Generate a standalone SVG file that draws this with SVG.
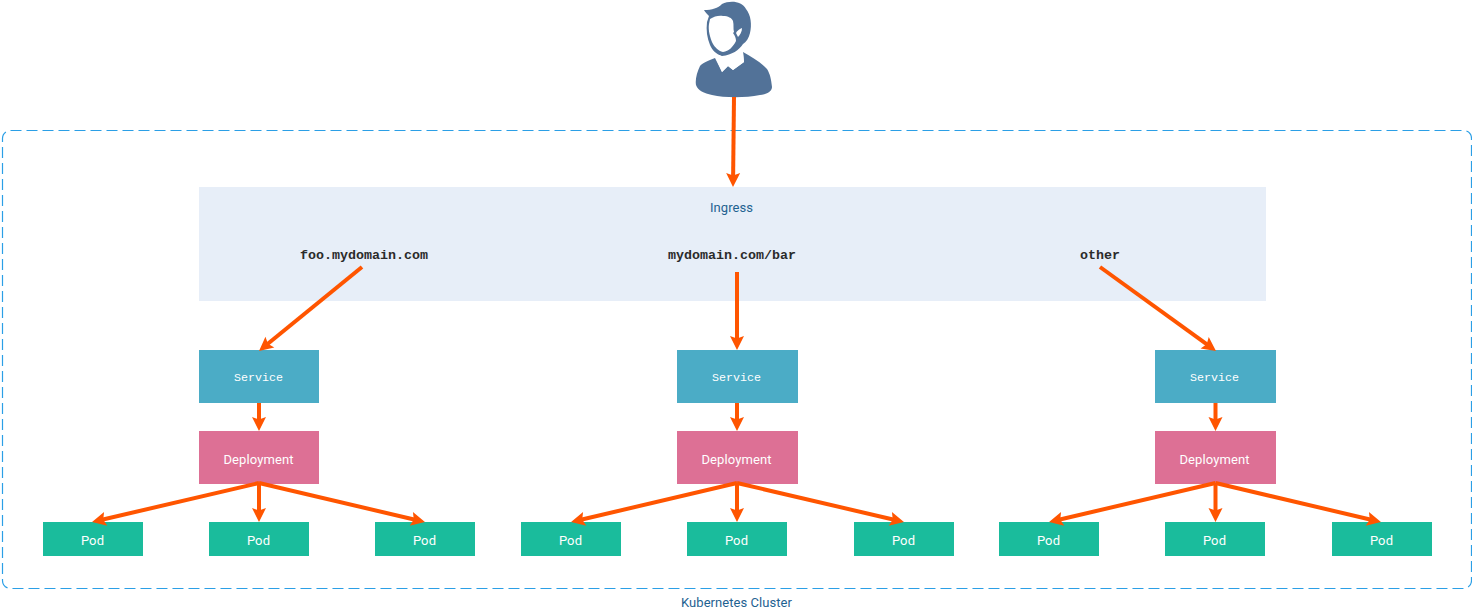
<svg xmlns="http://www.w3.org/2000/svg" width="1472" height="609" viewBox="0 0 1472 609">
<style>
.svc{fill:#4bacc6}.dep{fill:#dd7095}.pod{fill:#1abc9c}
.w{font-family:Roboto,"Liberation Sans",sans-serif;font-weight:400;font-size:13px;fill:#fff;text-anchor:middle;letter-spacing:.1px}
.m{font-family:"Liberation Mono","Courier New",monospace;text-anchor:middle}
.b{font-size:13.33px;font-weight:bold;fill:#2b2b2b}
.s{font-size:11.67px;fill:#fff}
.l{font-family:Roboto,"Liberation Sans",sans-serif;font-weight:400;font-size:13px;fill:#1f6291;text-anchor:middle;letter-spacing:.05px}
.c line{stroke:#ff5500;stroke-width:4;marker-end:url(#a)}
</style>
<defs>
<marker id="a" markerUnits="userSpaceOnUse" markerWidth="18" markerHeight="16" refX="6" refY="8" orient="auto">
<path d="M1 1L15 8L1 15L3.500 8Z" fill="#ff5500"/>
</marker>
</defs>
<rect width="1472" height="609" fill="#fff"/>
<g id="cluster">
<rect x="2.500" y="130.500" width="1469" height="458" rx="8" fill="none" stroke="#2b9fe6" stroke-width="1.200" stroke-dasharray="11 5"/>
<text class="l" x="736.500" y="607">Kubernetes Cluster</text>
</g>
<g id="user">
<path d="M704 10C712 10 718 8 722 4C730 0 742 1 746 9C751 15 752 25 750 33C749 38 746 42 743 44C739 50 732 55 722 56C716 54 712 50 710 45C707 38 706 30 707 22L709 16C707 14 705 12 704 10Z" fill="#527298"/>
<path d="M710 19C714 16 720 15 723 16C728 16 732 18 733 21C734 25 733 29 734 32L733 33C735 36 736 38 736 41C733 47 729 51 723 52C718 51 715 47 713 44C710 38 708 30 709 24Z" fill="#fff"/>
<path d="M742 28C739 29 737 31 736 33L738 37C740 35 742 32 742 28Z" fill="#fff"/>
<path d="M715 58C708 61 702 63 700 66C697 72 695 80 696 85C698 91 704 93 712 95C725 98 745 98 760 95C768 94 772 91 772 87C771 78 770 74 767 69C762 63 752 57 743 52L744 62L733 70L728 66L722 72Z" fill="#527298"/>
<path d="M715 56L722 72L728 66L733 70L744 62L743 52L735 58L725 63L720 55Z" fill="#fff"/>
</g>
<g id="ingress">
<rect x="199" y="187" width="1067" height="114" fill="#e7eef8"/>
<text class="l" x="731.500" y="212">Ingress</text>
<text class="m b" x="364" y="259">foo.mydomain.com</text>
<text class="m b" x="732" y="259">mydomain.com/bar</text>
<text class="m b" x="1100" y="259">other</text>
</g>
<g id="service-1"><rect class="svc" x="199" y="350" width="120" height="53"/><text class="m s" x="258.500" y="381">Service</text></g>
<g id="service-2"><rect class="svc" x="677" y="350" width="121" height="53"/><text class="m s" x="736.500" y="381">Service</text></g>
<g id="service-3"><rect class="svc" x="1155" y="350" width="121" height="53"/><text class="m s" x="1214.500" y="381">Service</text></g>
<g id="deployment-1"><rect class="dep" x="199" y="431" width="120" height="53"/><text class="w" x="258.500" y="464">Deployment</text></g>
<g id="deployment-2"><rect class="dep" x="677" y="431" width="121" height="53"/><text class="w" x="736.500" y="464">Deployment</text></g>
<g id="deployment-3"><rect class="dep" x="1155" y="431" width="121" height="53"/><text class="w" x="1214.500" y="464">Deployment</text></g>
<g id="pod-1"><rect class="pod" x="43" y="522" width="100" height="34"/><text class="w" x="92.500" y="545">Pod</text></g>
<g id="pod-2"><rect class="pod" x="209" y="522" width="100" height="34"/><text class="w" x="258.500" y="545">Pod</text></g>
<g id="pod-3"><rect class="pod" x="375" y="522" width="100" height="34"/><text class="w" x="424.500" y="545">Pod</text></g>
<g id="pod-4"><rect class="pod" x="521" y="522" width="100" height="34"/><text class="w" x="570.500" y="545">Pod</text></g>
<g id="pod-5"><rect class="pod" x="687" y="522" width="100" height="34"/><text class="w" x="736.500" y="545">Pod</text></g>
<g id="pod-6"><rect class="pod" x="854" y="522" width="100" height="34"/><text class="w" x="903.500" y="545">Pod</text></g>
<g id="pod-7"><rect class="pod" x="999" y="522" width="100" height="34"/><text class="w" x="1048.500" y="545">Pod</text></g>
<g id="pod-8"><rect class="pod" x="1165" y="522" width="100" height="34"/><text class="w" x="1214.500" y="545">Pod</text></g>
<g id="pod-9"><rect class="pod" x="1332" y="522" width="100" height="34"/><text class="w" x="1381.500" y="545">Pod</text></g>
<g id="connectors" class="c">
<line x1="734" y1="97" x2="733.100" y2="178"/>
<line x1="362" y1="267" x2="266" y2="345.300"/>
<line x1="737" y1="272" x2="737" y2="341"/>
<line x1="1100" y1="267" x2="1208.700" y2="345.700"/>
<line x1="259" y1="403" x2="259" y2="422"/>
<line x1="737" y1="403" x2="737" y2="422"/>
<line x1="1215.500" y1="403" x2="1215.500" y2="422"/>
<line x1="259" y1="483" x2="100.800" y2="520"/>
<line x1="259" y1="483" x2="259" y2="513"/>
<line x1="259" y1="483" x2="416.200" y2="520"/>
<line x1="737" y1="483" x2="579.800" y2="520"/>
<line x1="737" y1="483" x2="737" y2="513"/>
<line x1="737" y1="483" x2="895.200" y2="520"/>
<line x1="1215.500" y1="483" x2="1057.800" y2="520"/>
<line x1="1215.500" y1="483" x2="1215.500" y2="513"/>
<line x1="1215.500" y1="483" x2="1372.200" y2="520"/>
</g>
</svg>
